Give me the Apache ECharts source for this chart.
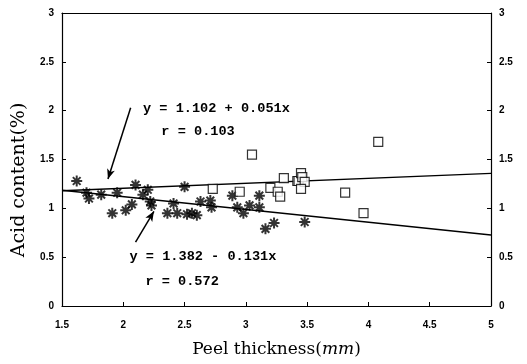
<!DOCTYPE html>
<html><head><meta charset="utf-8">
<script src="https://cdn.jsdelivr.net/npm/echarts@6/dist/echarts.min.js"></script>
<style>html,body{margin:0;padding:0;background:#fff}#c{width:527px;height:364px}</style>
</head><body><div id="c"></div>
<script>
// Stars (one group)
const starX = [1.62,1.70,1.72,1.82,1.95,2.10,1.91,2.02,2.07,2.16,2.20,2.22,2.23,2.36,2.44,2.52,2.41,2.50,2.56,2.60,2.63,2.71,2.72,2.89,2.93,2.98,3.03,3.11,3.11,3.16,3.23,3.48];
const starY = [1.28,1.16,1.10,1.14,1.16,1.24,0.95,0.98,1.04,1.14,1.19,1.07,1.03,0.95,0.95,0.94,1.05,1.22,0.95,0.93,1.07,1.08,1.01,1.13,1.01,0.95,1.03,1.13,1.01,0.79,0.85,0.86];
// Squares (other group)
const squareX = [2.73,2.95,3.05,3.20,3.26,3.28,3.31,3.42,3.43,3.45,3.46,3.48,3.45,3.81,3.96,4.08];
const squareY = [1.20,1.17,1.55,1.21,1.17,1.12,1.31,1.28,1.28,1.36,1.32,1.27,1.20,1.16,0.95,1.68];
// Regression line endpoints
const fitUpperX = [1.5, 5];
const fitUpperY = [1.18, 1.357];
const fitLowerX = [1.5, 5];
const fitLowerY = [1.185, 0.727];
const xTicks = ['1.5','2','2.5','3','3.5','4','4.5','5'];
const yTicks = ['0','0.5','1','1.5','2','2.5','3'];

const zip = (a,b)=>a.map((v,i)=>[v,b[i]]);
const star = 'path://M0,5L10,5M5,0L5,10M1.5,1.5L8.5,8.5M8.5,1.5L1.5,8.5';
const mono = '"Liberation Mono", "DejaVu Sans Mono", monospace';
const serif = '"DejaVu Serif","Liberation Serif",serif';
const tickFont = {fontFamily:'"Liberation Sans", Arial, sans-serif', fontWeight:'bold', fontSize:10, color:'#000'};

const chart = echarts.init(document.getElementById('c'), null, {renderer:'canvas'});
const textStyleEq = {fontFamily: mono, fontWeight:'bold', fontSize:13.6, color:'#000'};
chart.setOption({
  animation:false,
  grid:{left:62, right:36, top:13, bottom:58},
  graphic:[{
    type:'text', x:19, y:180, rotation:Math.PI/2,
    style:{text:'Acid content(%)', font:'19px "DejaVu Serif", serif', fill:'#000', textAlign:'center', textVerticalAlign:'middle'}
  }],
  xAxis:[{
    type:'value', min:1.5, max:5, interval:0.5,
    axisLine:{show:true, lineStyle:{color:'#000', width:1.2}},
    axisTick:{show:true, inside:true, length:4, lineStyle:{color:'#000'}},
    splitLine:{show:false},
    axisLabel:Object.assign({margin:14, formatter:v=>xTicks[Math.round((v-1.5)/0.5)]}, tickFont),
    name:'{n|Peel thickness(}{i|mm}{n|)}', nameLocation:'middle', nameGap:35,
    nameTextStyle:{rich:{
      n:{fontFamily:serif, fontSize:17, color:'#000'},
      i:{fontFamily:serif, fontStyle:'italic', fontSize:17, color:'#000'}
    }}
  },{
    type:'value', position:'top', min:1.5, max:5, interval:0.5,
    axisLine:{show:true, onZero:false, lineStyle:{color:'#000', width:1.2}},
    axisTick:{show:false}, axisLabel:{show:false}, splitLine:{show:false}
  }],
  yAxis:[{
    type:'value', min:0, max:3, interval:0.5,
    axisLine:{show:true, lineStyle:{color:'#000', width:1.2}},
    axisTick:{show:true, inside:true, length:4, lineStyle:{color:'#000'}},
    splitLine:{show:false},
    axisLabel:Object.assign({margin:8, formatter:v=>yTicks[Math.round(v/0.5)]}, tickFont)
  },{
    type:'value', position:'right', min:0, max:3, interval:0.5,
    axisLine:{show:true, lineStyle:{color:'#000', width:1.2}},
    axisTick:{show:true, inside:true, length:4, lineStyle:{color:'#000'}},
    splitLine:{show:false},
    axisLabel:Object.assign({margin:8, formatter:v=>yTicks[Math.round(v/0.5)]}, tickFont)
  }],
  series:[
    {type:'line', data:zip(fitUpperX,fitUpperY), symbol:'none', lineStyle:{color:'#000', width:1.3}, z:2,
     markLine:{silent:true, symbol:['none','arrow'], symbolSize:[6,10],
       lineStyle:{color:'#000', width:1.5, type:'solid', curveness:-0.1},
       label:{show:false},
       data:[[{coord:[2.06,2.03]},{coord:[1.875,1.30]}],[{coord:[2.10,0.655]},{coord:[2.25,0.97]}]]}},
    {type:'line', data:zip(fitLowerX,fitLowerY), symbol:'none', lineStyle:{color:'#000', width:1.3}, z:2,
     markPoint:{silent:true, symbol:'rect', symbolSize:1, itemStyle:{color:'rgba(0,0,0,0)'},
       data:[
         {coord:[2.76,2.02], label:Object.assign({show:true, formatter:'y = 1.102 + 0.051x'}, textStyleEq)},
         {coord:[2.61,1.79], label:Object.assign({show:true, formatter:'r = 0.103'}, textStyleEq)},
         {coord:[2.65,0.51], label:Object.assign({show:true, formatter:'y = 1.382 - 0.131x'}, textStyleEq)},
         {coord:[2.48,0.245], label:Object.assign({show:true, formatter:'r = 0.572'}, textStyleEq)}
       ]}},
    {type:'scatter', data:zip(starX,starY), symbol:star, symbolSize:11,
     itemStyle:{color:'#000', borderColor:'#000', borderWidth:2}, z:3},
    {type:'scatter', data:zip(squareX,squareY), symbol:'rect', symbolSize:9,
     itemStyle:{color:'#fff', borderColor:'#000', borderWidth:1.2}, z:4}
  ]
});
</script></body></html>
